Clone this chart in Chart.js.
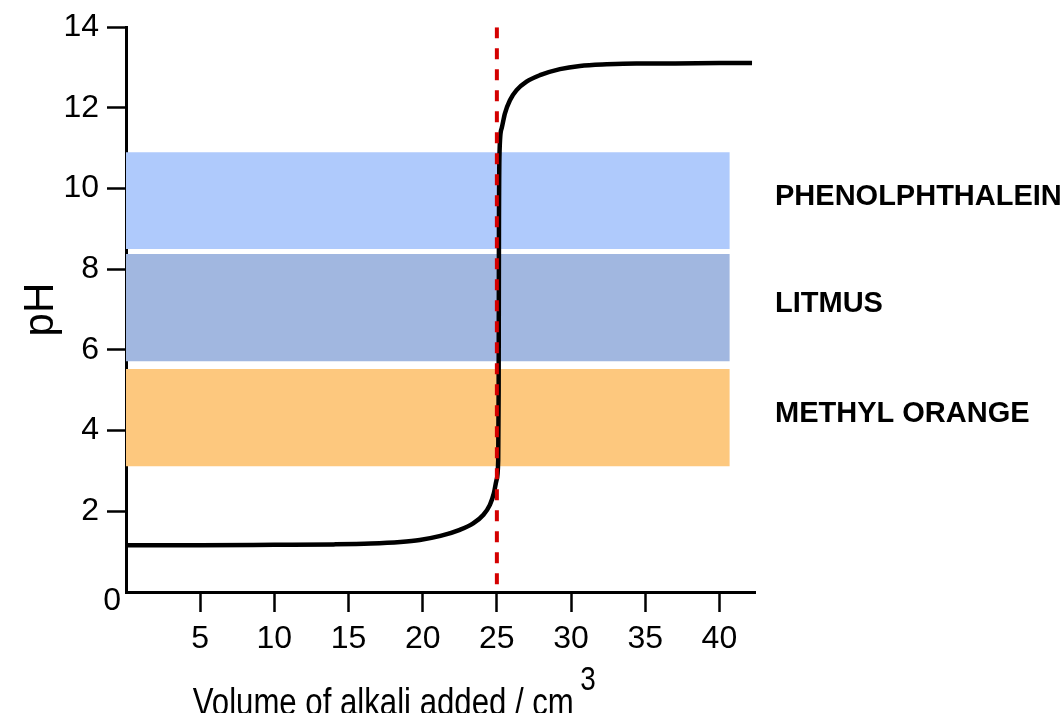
<!DOCTYPE html>
<html>
<head>
<meta charset="utf-8">
<script src="https://cdn.jsdelivr.net/npm/chart.js@4.4.1/dist/chart.umd.min.js"></script>
<style>
  body { margin: 0; background: #fff; }
  #wrap { width: 1064px; height: 713px; }
</style>
</head>
<body>
<div id="wrap"><canvas id="titration" width="1064" height="713"></canvas></div>
<script>
// titration curve (volume in cm3, pH)
const volume = [0, 5, 10, 14, 16.5, 18.5, 19.8, 21.2, 22.5, 23.4, 24.08, 24.53, 24.8, 24.98, 25.09, 25.12, 25.14,
    25.18, 25.32, 25.54, 25.88, 26.33, 27.0, 27.9, 29.25, 30.6, 32.4, 34.4, 37, 40, 42.2];
const ph = [1.16, 1.16, 1.17, 1.18, 1.2, 1.24, 1.29, 1.39, 1.54, 1.70, 1.91, 2.16, 2.45, 2.78, 3.27, 5, 9,
    10.9, 11.49, 11.86, 12.19, 12.44, 12.65, 12.81, 12.96, 13.04, 13.08, 13.1, 13.1, 13.11, 13.11];

// indicator ranges
const indicators = ['PHENOLPHTHALEIN', 'LITMUS', 'METHYL ORANGE'];
const rangeHigh = [10.9, 8.38, 5.53];
const rangeLow = [8.5, 5.72, 3.12];
const rangeColors = ['#afcafc', '#a1b7e0', '#fdc87e'];
const rangeVolume = [0, 40.7];

const equivalenceVolume = 25;
const xTicks = [5, 10, 15, 20, 25, 30, 35, 40];
const yTicks = [0, 2, 4, 6, 8, 10, 12, 14];
const xTitle = 'Volume of alkali added / cm';

const FONT = "'Liberation Sans', Arial, Helvetica, sans-serif";

const datasets = [];

datasets.push({
    label: 'equivalence',
    data: [{ x: equivalenceVolume, y: 14 }, { x: equivalenceVolume, y: 0 }],
    borderColor: '#d40000',
    borderWidth: 4,
    borderDash: [11, 10],
    pointRadius: 0,
    fill: false,
    order: 0
});

datasets.push({
    label: 'pH',
    data: volume.map((v, i) => ({ x: v, y: ph[i] })),
    borderColor: '#000',
    borderWidth: 4.5,
    pointRadius: 0,
    cubicInterpolationMode: 'monotone',
    fill: false,
    order: 1
});

indicators.forEach((name, i) => {
    datasets.push({
        label: name + ' high',
        data: rangeVolume.map(v => ({ x: v, y: rangeHigh[i] })),
        borderWidth: 0,
        pointRadius: 0,
        backgroundColor: rangeColors[i],
        fill: '+1',
        order: 5
    });
    datasets.push({
        label: name + ' low',
        data: rangeVolume.map(v => ({ x: v, y: rangeLow[i] })),
        borderWidth: 0,
        pointRadius: 0,
        fill: false,
        order: 5
    });
});

const extraText = {
    id: 'extraText',
    afterDraw(chart) {
        const { ctx, scales: { x, y }, chartArea } = chart;
        ctx.save();
        ctx.fillStyle = '#000';
        ctx.font = 'bold 29px ' + FONT;
        ctx.textAlign = 'left';
        ctx.textBaseline = 'middle';
        indicators.forEach((name, i) => {
            const py = y.getPixelForValue((rangeHigh[i] + rangeLow[i]) / 2) - 4;
            ctx.fillText(name, chartArea.right + 20, py);
        });
        // the 0 shared by both axes
        ctx.font = '32px ' + FONT;
        ctx.textAlign = 'right';
        ctx.fillText('0', x.getPixelForValue(0) - 5, y.getPixelForValue(0) + 9);

        // x axis title in a narrow face, with a raised 3
        const tx = x.getPixelForValue(4.5);
        const base = chart.height + 2;
        ctx.textAlign = 'left';
        ctx.textBaseline = 'alphabetic';
        ctx.translate(tx, base);
        ctx.scale(0.82, 1);
        ctx.font = '38px ' + FONT;
        ctx.fillText(xTitle, 0, 0);
        const w = ctx.measureText(xTitle).width;
        ctx.font = '34px ' + FONT;
        ctx.fillText('3', w + 8, -25);
        ctx.restore();
    }
};

const tickColor = c => (c.tick && c.tick.value === 0) ? 'rgba(0,0,0,0)' : '#000';

new Chart(document.getElementById('titration'), {
    type: 'line',
    data: { datasets },
    options: {
        responsive: false,
        animation: false,
        layout: { padding: { top: 27, right: 309, bottom: 0, left: 0 } },
        plugins: { legend: { display: false }, tooltip: { enabled: false } },
        scales: {
            x: {
                type: 'linear',
                min: 0,
                max: 42.4,
                afterBuildTicks: s => { s.ticks = xTicks.map(v => ({ value: v })); },
                afterFit: s => { s.height = 121; },
                grid: { drawOnChartArea: false, tickLength: 20, tickWidth: 2.5, tickColor },
                border: { color: '#000', width: 3 },
                ticks: { color: '#000', padding: 8, font: { family: FONT, size: 32 }, maxRotation: 0 },
                title: { display: false }
            },
            y: {
                min: 0,
                max: 14,
                afterBuildTicks: s => { s.ticks = yTicks.map(v => ({ value: v })); },
                afterFit: s => { s.width = 126; },
                grid: { drawOnChartArea: false, tickLength: 19, tickWidth: 2.5, tickColor },
                border: { color: '#000', width: 3 },
                ticks: {
                    color: '#000',
                    padding: 8,
                    font: { family: FONT, size: 32 },
                    callback: v => v === 0 ? '' : v
                },
                title: {
                    display: true,
                    text: 'pH',
                    color: '#000',
                    font: { family: FONT, size: 42, lineHeight: 1.2 },
                    padding: { top: 16, bottom: 0 }
                }
            }
        }
    },
    plugins: [extraText]
});
</script>
</body>
</html>
